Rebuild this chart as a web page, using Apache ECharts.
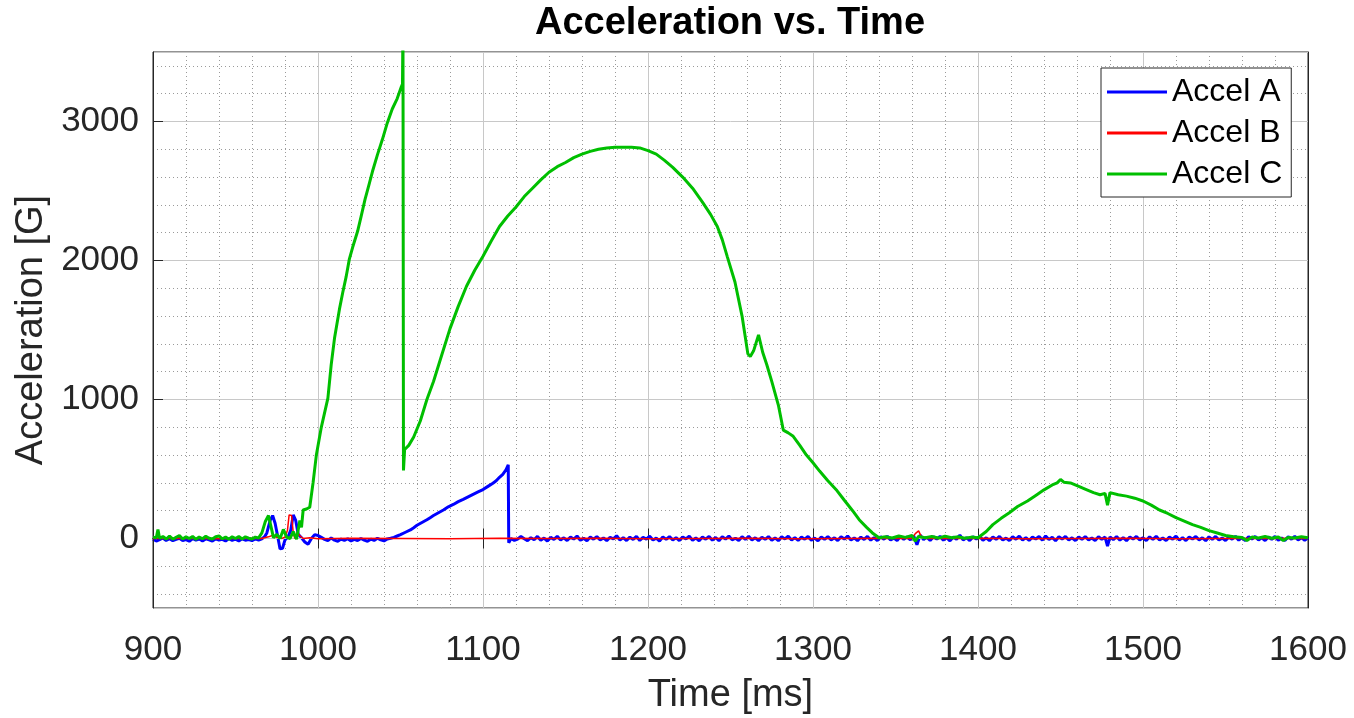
<!DOCTYPE html>
<html>
<head>
<meta charset="utf-8">
<script src="https://cdn.jsdelivr.net/npm/echarts@6/dist/echarts.min.js"></script>
<style>
html,body{margin:0;padding:0;background:#fff;}
#chart{width:1354px;height:718px;}
</style>
</head>
<body>
<div id="chart"></div>
<script>
// ---- Data (time in ms, acceleration in G) ----
const titleText = 'Acceleration vs. Time';
const xName = 'Time [ms]';
const yName = 'Acceleration [G]';
const seriesNames = ['Accel A', 'Accel B', 'Accel C'];
const xTicks = [900, 1000, 1100, 1200, 1300, 1400, 1500, 1600];
const yTicks = [0, 1000, 2000, 3000];

const accelA = [
 [900,-5],[902,-18],[904,-8],[906,4],[908,-14],[910,-2],[912,-16],[914,-6],[916,2],[918,-15],[920,-8],[922,-20],
 [924,0],[926,-12],[928,-4],[930,-17],[932,-3],[934,-10],[936,-19],[938,-2],[940,-11],[942,-6],[944,-18],
 [946,-1],[948,-13],[950,-5],[952,-17],[954,-2],[956,-12],[958,-7],[960,-15],[962,-3],[964,-11],[966,-2],
 [967.5,10],[969,40],[971,130],[972.5,165],[974,110],[975.5,20],
 [977,-75],[978.5,-70],[980,-10],[982,15],[983.5,60],[985,170],[986.5,130],[988,30],[990,5],[992,-25],[994,-42],
 [996,0],[998,28],[1000,22],[1002,8],[1004,-6],[1006,-16],[1008,4],[1010,-12],[1012,-20],[1014,-4],[1016,-14],
 [1018,-2],[1020,-18],[1022,-6],[1024,-15],[1026,0],[1028,-12],[1030,-20],[1032,-5],[1034,-14],[1036,2],
 [1038,-10],[1040,-17],[1042,-3],[1044,2],[1046,8],[1048,18],[1050,28],[1053,45],
 [1056,62],[1058,78],[1060,95],[1063,115],[1066,135],[1068,150],[1070,165],[1073,185],[1076,205],[1079,228],
 [1082,245],[1085,265],[1088,282],[1091,300],[1094,318],[1097,335],[1100,352],[1103,375],[1106,398],[1108,415],
 [1110,440],[1112,462],[1114,495],[1115.3,530],[1115.6,-30],[1117,0],[1119,-14],[1121,-4],[1123,14],[1125,-2],
 [1127,-16],[1129,6],[1131,-9],[1133,15],[1135,-12],[1137,3],[1139,-18],[1141,8],[1143,-6],[1145,16],[1147,-10],
 [1149,5],[1151,-15],[1153,10],[1155,-4],[1157,18],[1159,-13],[1161,2],[1163,-17],[1165,11],[1167,-5],[1169,14],
 [1171,-11],[1173,4],[1175,-16],[1177,9],[1179,-3],[1181,20],[1183,-12],[1185,6],[1187,-15],[1189,10],[1191,-7],
 [1193,15],[1195,-14],[1197,8],[1199,-4],[1201,17],[1203,-11],[1205,3],[1207,-18],[1209,12],[1211,-6],[1213,14],
 [1215,-10],[1217,6],[1219,-15],[1221,11],[1223,-3],[1225,16],[1227,-12],[1229,4],[1231,-17],[1233,10],[1235,-5],
 [1237,15],[1239,-12],[1241,7],[1243,-16],[1245,12],[1247,-4],[1249,18],[1251,-10],[1253,2],[1255,-14],[1257,13],
 [1259,-7],[1261,16],[1263,-11],[1265,5],[1267,-15],[1269,9],[1271,-6],[1273,14],[1275,-13],[1277,4],[1279,-16],
 [1281,12],[1283,-3],[1285,17],[1287,-10],[1289,6],[1291,-14],[1293,10],[1295,-5],[1297,15],[1299,-12],[1301,3],
 [1303,-17],[1305,11],[1307,-6],[1309,14],[1311,-10],[1313,5],[1315,-15],[1317,12],[1319,-4],[1321,18],[1323,-11],
 [1325,4],[1327,-16],[1329,10],[1331,-7],[1333,15],[1335,-12],[1337,6],[1339,-15],[1341,12],[1343,-5],[1345,16],
 [1347,-11],[1349,3],[1351,-14],[1353,15],[1355,-6],[1357,12],[1359,-10],[1361,20],[1363,-45],[1365,25],
 [1367,-8],[1369,10],[1371,-15],[1373,13],[1375,-4],[1377,16],[1379,-12],[1381,6],[1383,-17],[1385,11],
 [1387,-5],[1389,24],[1391,-10],[1393,6],[1395,-15],[1397,12],[1399,-4],[1401,16],[1403,-13],[1405,5],[1407,-16],
 [1409,11],[1411,-6],[1413,15],[1415,-11],[1417,3],[1419,-15],[1421,12],[1423,-5],[1425,17],[1427,-10],[1429,6],
 [1431,-14],[1433,10],[1435,-4],[1437,14],[1439,-12],[1441,18],[1443,-7],[1445,8],[1447,-16],[1449,12],[1451,-4],
 [1453,15],[1455,-11],[1457,5],[1459,-15],[1461,11],[1463,-6],[1465,14],[1467,-10],[1469,4],[1471,-14],[1473,12],
 [1475,-5],[1477,10],[1478.5,-55],[1480,12],[1482,-8],[1484,14],[1486,-12],[1488,6],[1490,-16],[1492,11],
 [1494,-4],[1496,15],[1498,-10],[1500,5],[1502,-15],[1504,12],[1506,-6],[1508,16],[1510,-11],[1512,4],[1514,-14],
 [1516,10],[1518,-5],[1520,17],[1522,-12],[1524,6],[1526,-15],[1528,11],[1530,-4],[1532,14],[1534,-10],[1536,5],
 [1538,-16],[1540,12],[1542,-6],[1544,15],[1546,-11],[1548,3],[1550,-14],[1552,10],[1554,-5],[1556,16],
 [1558,-12],[1560,7],[1562,-15],[1564,12],[1566,-4],[1568,14],[1570,-11],[1572,5],[1574,-15],[1576,11],
 [1578,-6],[1580,15],[1582,-12],[1584,4],[1586,-14],[1588,12],[1590,-5],[1592,16],[1594,-10],[1596,6],
 [1598,-13],[1600,5]
];

const accelB = [
 [900,0],[920,2],[940,-1],[960,1],[966,0],[970,12],[973,25],[975,8],[978,0],[980,10],[981.5,60],[982.5,170],
 [984,165],[985,40],[986,0],[987.5,45],[989,20],[991,0],[995,5],[1000,-2],[1020,1],[1050,0],[1080,-1],[1110,1],
 [1140,0],[1170,2],[1200,-1],[1230,0],[1260,1],[1290,-1],[1320,0],[1350,1],[1360,0],[1362,35],[1364,55],
 [1366,5],[1368,0],[1400,1],[1430,-1],[1460,0],[1490,1],[1520,-1],[1550,0],[1580,1],[1600,0]
];

const accelC = [
 [900,10],[902,5],[903,65],[904,2],[906,14],[908,-4],[910,18],[912,-5],[914,9],[916,22],[918,-3],[920,12],
 [922,0],[924,15],[926,-6],[928,10],[930,-2],[932,16],[934,2],[936,-4],[938,13],[940,18],[942,-2],[944,10],
 [946,-5],[948,12],[950,0],[952,14],[954,-3],[956,12],[958,2],[960,-4],[962,10],[964,4],[966,40],[968,120],
 [970,165],[972,60],[973,5],
 [975,30],[977,0],[979,65],[981,10],[983,0],[985,50],[987,-5],[989,130],[990,80],[991,205],[993,212],[995,225],
 [997,400],[999,600],[1002,800],[1006,1010],[1008,1250],[1010,1440],[1013,1650],[1015,1770],[1017,1880],
 [1019,2010],[1021,2095],[1024,2210],[1026,2310],[1028.5,2440],[1031,2550],[1033,2640],[1036,2760],
 [1039,2870],[1042,2990],[1045,3090],[1048,3165],[1050.5,3250],[1051.2,3270],
 [1051.5,3700],[1051.8,490],[1052.5,640],[1055,670],[1058,730],[1062,845],[1066,1000],[1070,1130],[1075,1320],
 [1080,1510],[1085,1670],[1090,1815],[1095,1930],[1100,2030],[1105,2140],[1110,2245],
 [1115,2320],[1120,2385],[1125,2460],[1130,2520],[1135,2580],[1140,2635],[1145,2675],[1150,2705],
 [1155,2740],[1160,2765],[1165,2785],[1170,2800],[1175,2810],[1180,2815],[1185,2815],[1190,2815],[1195,2810],
 [1200,2790],[1205,2765],[1210,2720],[1215,2670],[1221,2600],[1227,2520],[1233,2420],
 [1238,2330],[1242,2245],[1245,2150],[1248,2030],[1252.7,1845],[1257,1600],[1260.5,1330],[1262,1310],
 [1264,1350],[1267,1465],[1269.5,1340],[1272,1250],[1275,1130],[1279,960],[1282,780],[1285,760],[1288,735],
 [1292,670],[1296,600],[1300,545],[1304,485],[1309,415],[1314.5,345],[1319,275],[1324,200],[1328,135],
 [1332.5,80],[1336,40],[1340,5],[1344,12],[1348,4],[1352,18],[1356,8],[1360,22],[1362,-20],[1364,15],[1368,6],
 [1372,14],[1376,3],[1380,16],[1384,5],[1388,12],[1392,2],[1396,10],[1400,5],[1405,50],[1409,100],[1414,145],
 [1419,185],[1424,230],[1430,270],[1435,310],[1440,350],[1445,385],[1448,400],[1450,425],[1452,405],[1456,400],
 [1460,380],[1466,350],[1470,330],[1474,315],[1477,325],[1478.5,240],[1480,330],[1485,315],[1490,305],
 [1495,290],[1500,270],[1505,240],[1510,205],[1515,180],[1520,150],[1525,125],[1530,100],[1535,80],[1540,57],
 [1545,40],[1550,22],[1555,12],[1560,7],[1563,-15],[1566,10],[1570,4],[1574,14],[1578,2],[1582,11],[1585,-15],
 [1588,8],[1592,3],[1596,12],[1600,6]
];

const colorA = '#0000FF';
const colorB = '#FF0000';
const colorC = '#00BF00';
const axisColor = '#262626';
const font = '"Liberation Sans", Arial, Helvetica, sans-serif';
const plainNum = v => String(v);

const chart = echarts.init(document.getElementById('chart'));

const option = {
  animation: false,
  backgroundColor: '#fff',
  title: {
    text: titleText,
    left: 730, textAlign: 'center', top: 5, padding: 0,
    textStyle: {fontFamily: font, fontSize: 38, fontWeight: 'bold', color: '#000'}
  },
  legend: {
    orient: 'vertical',
    left: 1101, top: 68,
    padding: [8, 9, 7, 6],
    itemGap: 9,
    itemWidth: 60, itemHeight: 3,
    icon: 'rect',
    backgroundColor: '#fff',
    borderColor: axisColor, borderWidth: 1,
    textStyle: {fontFamily: font, fontSize: 32, lineHeight: 32, color: '#000'},
    data: seriesNames
  },
  grid: {
    left: 153, right: 46, top: 52, bottom: 110,
    outerBoundsMode: 'none', containLabel: false,
    show: true, borderColor: axisColor, borderWidth: 1, backgroundColor: 'transparent'
  },
  xAxis: [{
    type: 'value', min: xTicks[0], max: xTicks[xTicks.length - 1], interval: 100,
    name: xName, nameLocation: 'middle', nameGap: 69,
    nameTextStyle: {fontFamily: font, fontSize: 38, color: axisColor},
    axisLine: {show: true, lineStyle: {color: axisColor}},
    axisTick: {show: true, inside: true, length: 10, lineStyle: {color: axisColor}},
    axisLabel: {fontFamily: font, fontSize: 35, color: axisColor, margin: 25, formatter: plainNum},
    splitLine: {show: true, lineStyle: {color: '#c8c8c8', width: 1}},
    minorTick: {show: false, splitNumber: 5},
    minorSplitLine: {show: true, lineStyle: {color: '#9a9a9a', type: [1, 3], width: 1}}
  }, {
    type: 'value', position: 'top', min: xTicks[0], max: xTicks[xTicks.length - 1], interval: 100,
    axisLine: {show: true, lineStyle: {color: axisColor}},
    axisTick: {show: true, inside: true, length: 10, lineStyle: {color: axisColor}},
    axisLabel: {show: false}, splitLine: {show: false}
  }],
  yAxis: [{
    type: 'value', min: -500, max: 3500, splitNumber: 4,
    name: yName, nameLocation: 'middle', nameGap: 100,
    nameTextStyle: {fontFamily: font, fontSize: 38, color: axisColor},
    axisLine: {show: true, lineStyle: {color: axisColor}},
    axisTick: {show: true, inside: true, length: 10, lineStyle: {color: axisColor}},
    axisLabel: {fontFamily: font, fontSize: 35, color: axisColor, margin: 14,
                showMinLabel: false, showMaxLabel: false, formatter: plainNum},
    splitLine: {show: true, lineStyle: {color: '#c8c8c8', width: 1}},
    z: 3
  }, {
    type: 'value', position: 'right', min: -500, max: 3500, splitNumber: 20,
    axisLine: {show: false}, axisTick: {show: false}, axisLabel: {show: false},
    splitLine: {show: true, lineStyle: {color: '#9a9a9a', type: [1, 3], width: 1}},
    z: 1
  }, {
    type: 'value', position: 'right', min: -500, max: 3500, splitNumber: 4,
    axisLine: {show: true, lineStyle: {color: axisColor}},
    axisTick: {show: true, inside: true, length: 10, lineStyle: {color: axisColor}},
    axisLabel: {show: false}, splitLine: {show: false}
  }],
  series: [
    {name: seriesNames[0], type: 'line', data: accelA, showSymbol: false, symbol: 'none',
     color: colorA, lineStyle: {color: colorA, width: 3}, clip: true, z: 2},
    {name: seriesNames[1], type: 'line', data: accelB, showSymbol: false, symbol: 'none',
     color: colorB, lineStyle: {color: colorB, width: 1.5}, clip: true, z: 3},
    {name: seriesNames[2], type: 'line', data: accelC, showSymbol: false, symbol: 'none',
     color: colorC, lineStyle: {color: colorC, width: 3}, clip: true, z: 4}
  ]
};
chart.setOption(option);
</script>
</body>
</html>
